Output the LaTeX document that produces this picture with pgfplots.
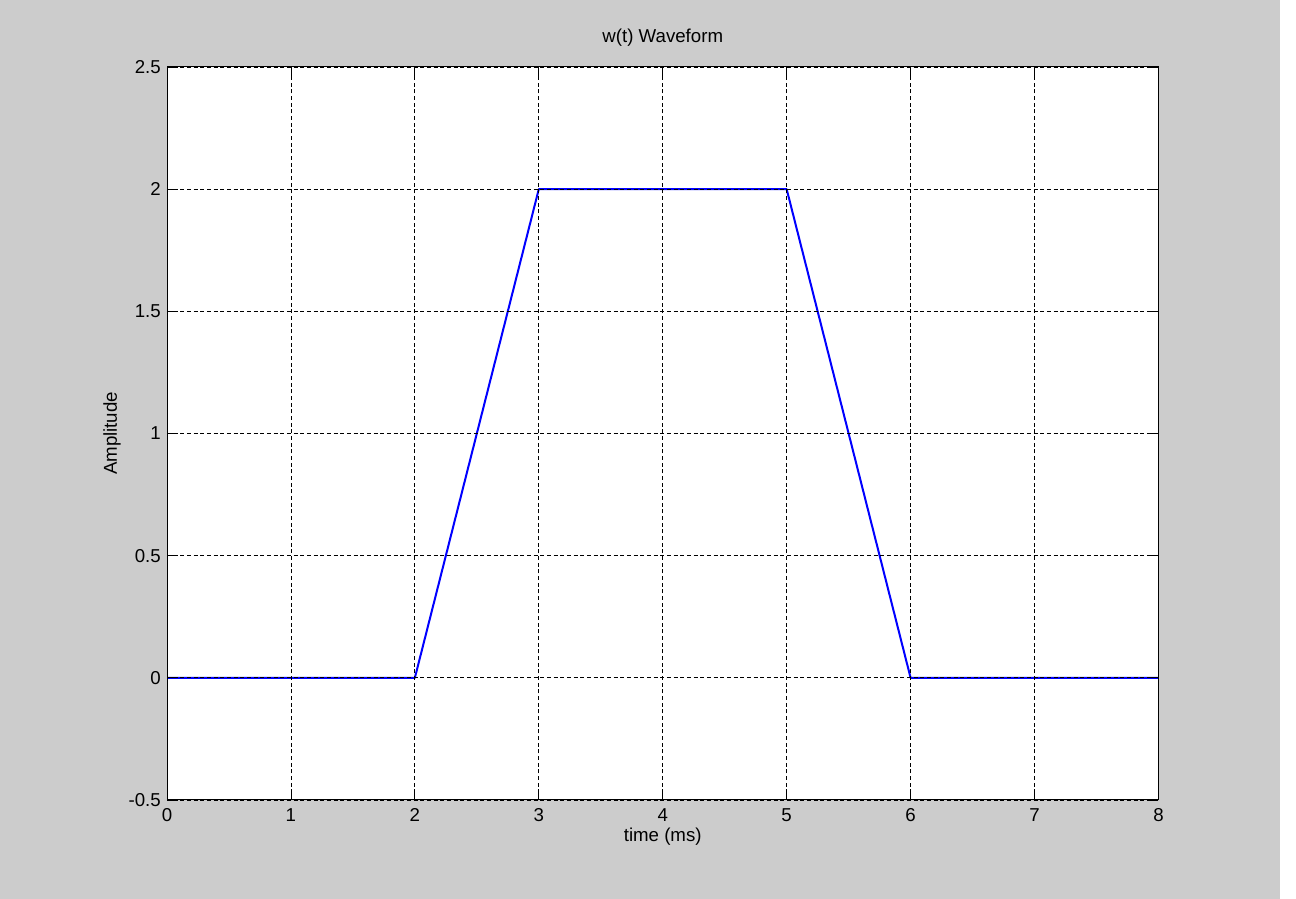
\documentclass[border=0pt]{standalone}
\usepackage{pgfplots}
\pgfplotsset{compat=1.18}
\usepackage{fontspec}
\setmainfont{Liberation Sans}
\definecolor{figgray}{HTML}{CCCCCC}
\definecolor{mblue}{rgb}{0,0,1}

\begin{document}
\fontsize{14pt}{16pt}\selectfont
\begin{tikzpicture}[x=1pt,y=1pt]
  % figure background: 1296x899 px at 0.75pt/px
  \fill[white] (0,0) rectangle (972,674.25);
  \fill[figgray] (0,0) rectangle (960,674.25);
  \begin{axis}[
    at={(125.25pt,74.25pt)},
    anchor=south west,
    scale only axis,
    width=743.6pt,
    height=549.75pt,
    axis background/.style={fill=white},
    axis on top,
    /pgf/number format/assume math mode=true,
    xmin=0, xmax=8,
    ymin=-0.5, ymax=2.5,
    xtick={0,1,...,8},
    ytick={-0.5,0,0.5,1,1.5,2,2.5},
    yticklabels={-0.5,0,0.5,1,1.5,2,2.5},
    xticklabels={0,1,2,3,4,5,6,7,8},
    tick align=inside,
    tickpos=both,
    major tick length=7.5pt,
    tick style={black, line width=0.6pt},
    axis line style={black, line width=0.75pt},
    grid=major,
    grid style={black, line width=0.6pt, dash pattern=on 3pt off 2pt},
    xticklabel style={anchor=base, inner sep=0pt, yshift=-16.2pt},
    yticklabel style={anchor=east, inner sep=0pt, xshift=-4.5pt},
    title={w(t) Waveform},
    title style={at={(axis description cs:0.5,1)}, anchor=base, inner sep=0pt, yshift=12pt},
    xlabel={time (ms)},
    xlabel style={at={(axis description cs:0.5,0)}, anchor=base, inner sep=0pt, yshift=-31.3pt},
    ylabel={Amplitude},
    ylabel style={at={(axis description cs:-0.0555,0.5)}, anchor=center, rotate=0, inner sep=0pt},
  ]
    \addplot[mblue, line width=1.5pt, line join=round] coordinates {
      (0,0) (2,0) (3,2) (5,2) (6,0) (8,0)
    };
  \end{axis}
\end{tikzpicture}
\end{document}
